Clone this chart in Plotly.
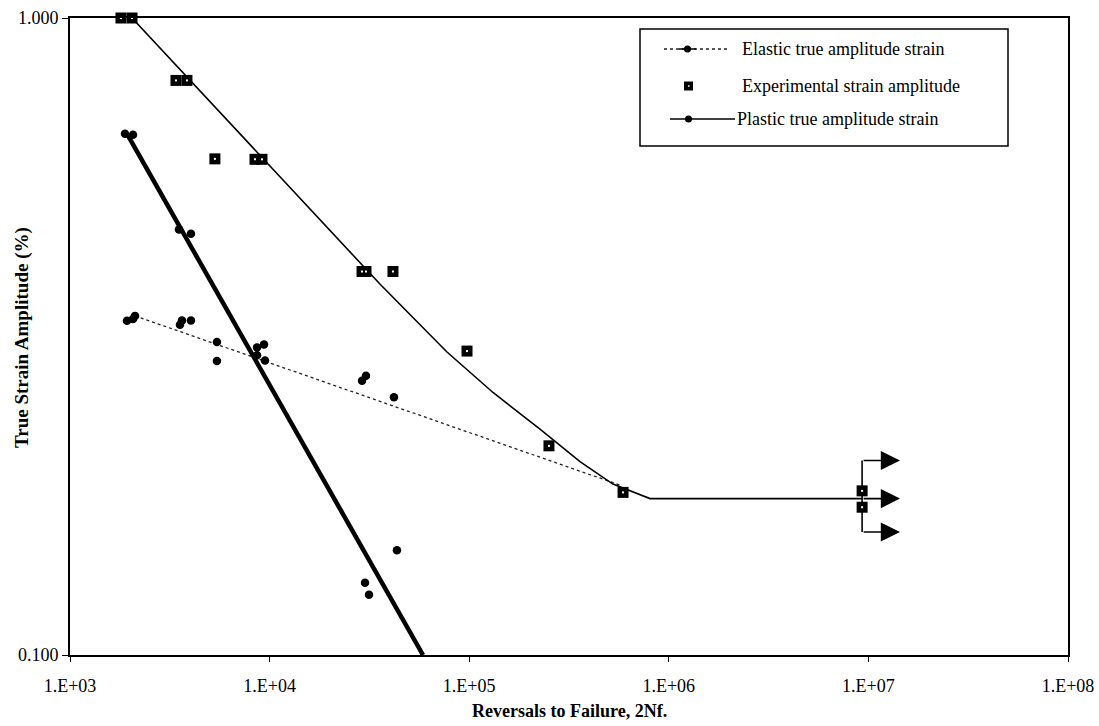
import math
import plotly.graph_objects as go

# ---------------- data ----------------
exp_x = [1800, 2045, 3396, 3854, 5321, 8450, 9160, 29050, 30400, 41500,
         97500, 251000, 590000, 9.3e6, 9.3e6]
exp_y = [1.0, 1.0, 0.798, 0.798, 0.601, 0.600, 0.600, 0.400, 0.400, 0.400,
         0.300, 0.213, 0.180, 0.181, 0.1706]

elastic_x = [1930, 2069, 2117, 3556, 3639, 4036, 5447, 5447, 8650, 9375,
             8650, 9484, 30400, 29050, 41980]
elastic_y = [0.3347, 0.337, 0.3407, 0.330, 0.335, 0.335, 0.310, 0.2894,
             0.304, 0.3072, 0.2954, 0.290, 0.2744, 0.2694, 0.2539]

plastic_x = [1886, 2069, 3516, 4036, 30060, 31480, 43450]
plastic_y = [0.658, 0.6555, 0.4657, 0.4586, 0.1298, 0.1243, 0.146]

elastic_fit_x = [2117, 569500]
elastic_fit_y = [0.3407, 0.1848]

plastic_fit_x = [1953, 58700]
plastic_fit_y = [0.6534, 0.100]

total_x = [2045, 9160, 35700, 51650, 77400, 131600, 226300, 359000, 525000,
           805000, 9.3e6]
total_y = [1.0, 0.604, 0.3823, 0.340, 0.299, 0.2583, 0.2262, 0.2012, 0.1855,
           0.176, 0.176]

runout_x = 9.3e6
runout_tip_x = 1.44e7
runout_levels = [0.202, 0.176, 0.156]

x_tickvals = [1e3, 1e4, 1e5, 1e6, 1e7, 1e8]
x_ticktext = ["1.E+03", "1.E+04", "1.E+05", "1.E+06", "1.E+07", "1.E+08"]
y_tickvals = [0.1, 1.0]
y_ticktext = ["0.100", "1.000"]

legend_labels = ["Elastic true amplitude strain",
                 "Experimental strain amplitude",
                 "Plastic true amplitude strain"]

x_title = "Reversals to Failure, 2Nf."
y_title = "True Strain Amplitude (%)"

# ---------------- figure ----------------
FONT = "Liberation Serif, Times New Roman, serif"
W, H = 1099, 726
L, R, T, B = 70, 31, 18, 71
PW, PH = W - L - R, H - T - B


def px(x):
    return (x - L) / PW


def py(y):
    return (H - B - y) / PH


fig = go.Figure()

fig.add_trace(go.Scatter(x=elastic_fit_x, y=elastic_fit_y, mode="lines",
                         line=dict(color="#222", width=1.3, dash="dot"),
                         showlegend=False, hoverinfo="skip"))
fig.add_trace(go.Scatter(x=plastic_fit_x, y=plastic_fit_y, mode="lines",
                         line=dict(color="black", width=4.5),
                         showlegend=False, hoverinfo="skip", cliponaxis=True))
fig.add_trace(go.Scatter(x=total_x, y=total_y, mode="lines",
                         line=dict(color="black", width=1.6),
                         showlegend=False, hoverinfo="skip", cliponaxis=False))
fig.add_trace(go.Scatter(x=[runout_x] * 2, y=[runout_levels[0], runout_levels[-1]],
                         mode="lines", line=dict(color="black", width=1.6),
                         showlegend=False, hoverinfo="skip"))
fig.add_trace(go.Scatter(x=elastic_x, y=elastic_y, mode="markers",
                         marker=dict(color="black", size=8.5, symbol="circle"),
                         showlegend=False, cliponaxis=False))
fig.add_trace(go.Scatter(x=plastic_x, y=plastic_y, mode="markers",
                         marker=dict(color="black", size=8.5, symbol="circle"),
                         showlegend=False, cliponaxis=False))
fig.add_trace(go.Scatter(x=exp_x, y=exp_y, mode="markers",
                         marker=dict(color="black", size=11, symbol="square",
                                     line=dict(width=0)),
                         showlegend=False, cliponaxis=False))
fig.add_trace(go.Scatter(x=exp_x, y=exp_y, mode="markers",
                         marker=dict(color="white", size=2, symbol="square",
                                     line=dict(width=0)),
                         showlegend=False, cliponaxis=False, hoverinfo="skip"))

annotations = []
for lev in runout_levels:
    annotations.append(dict(
        x=math.log10(runout_tip_x), y=math.log10(lev), xref="x", yref="y",
        ax=math.log10(runout_x), ay=math.log10(lev), axref="x", ayref="y",
        showarrow=True, arrowhead=2, arrowsize=2.4, arrowwidth=1.6,
        arrowcolor="black", text=""))

# legend drawn manually
shapes = []
shapes.append(dict(type="rect", xref="paper", yref="paper",
                   x0=px(640), x1=px(1008), y0=py(146), y1=py(29),
                   line=dict(color="black", width=1.5), fillcolor="white",
                   layer="below"))
rows = [49, 86, 119]
# elastic sample
shapes.append(dict(type="line", xref="paper", yref="paper",
                   x0=px(664), x1=px(728), y0=py(rows[0]), y1=py(rows[0]),
                   line=dict(color="#222", width=1.3, dash="dot")))
shapes.append(dict(type="line", xref="paper", yref="paper",
                   x0=px(679), x1=px(696), y0=py(rows[0]), y1=py(rows[0]),
                   line=dict(color="black", width=1.5)))
shapes.append(dict(type="circle", xref="paper", yref="paper",
                   x0=px(684), x1=px(691), y0=py(rows[0] + 3.5), y1=py(rows[0] - 3.5),
                   line=dict(color="black", width=0), fillcolor="black"))
# experimental sample
shapes.append(dict(type="rect", xref="paper", yref="paper",
                   x0=px(684), x1=px(693), y0=py(rows[1] + 4.5), y1=py(rows[1] - 4.5),
                   line=dict(color="black", width=0), fillcolor="black"))
shapes.append(dict(type="rect", xref="paper", yref="paper",
                   x0=px(688), x1=px(689.5), y0=py(rows[1] + 0.8), y1=py(rows[1] - 0.8),
                   line=dict(color="white", width=0), fillcolor="white"))
# plastic sample
shapes.append(dict(type="line", xref="paper", yref="paper",
                   x0=px(670), x1=px(735), y0=py(rows[2]), y1=py(rows[2]),
                   line=dict(color="black", width=1.6)))
shapes.append(dict(type="circle", xref="paper", yref="paper",
                   x0=px(685), x1=px(692), y0=py(rows[2] + 3.5), y1=py(rows[2] - 3.5),
                   line=dict(color="black", width=0), fillcolor="black"))

text_x = [740, 740, 735]
for lab, r, tx in zip(legend_labels, rows, text_x):
    annotations.append(dict(x=px(tx), y=py(r), xref="paper", yref="paper",
                            text=lab, showarrow=False, xanchor="left",
                            yanchor="middle",
                            font=dict(family=FONT, size=18, color="black")))

# axis titles as annotations (fixed positions, like the reference)
annotations.append(dict(x=px(569), y=py(711), xref="paper", yref="paper",
                        text="<b>" + x_title + "</b>", showarrow=False,
                        xanchor="center", yanchor="middle",
                        font=dict(family=FONT, size=18, color="black")))
annotations.append(dict(x=px(22), y=py(338), xref="paper", yref="paper",
                        text="<b>" + y_title + "</b>", showarrow=False,
                        textangle=-90, xanchor="center", yanchor="middle",
                        font=dict(family=FONT, size=19, color="black")))

fig.update_layout(
    width=W, height=H,
    margin=dict(l=L, r=R, t=T, b=B, autoexpand=False),
    paper_bgcolor="white", plot_bgcolor="white",
    showlegend=False,
    shapes=shapes, annotations=annotations,
    font=dict(family=FONT, color="black"),
)

fig.update_xaxes(
    type="log", range=[3, 8], automargin=False,
    tickvals=x_tickvals, ticktext=x_ticktext,
    ticks="outside", ticklen=5, tickwidth=1, tickcolor="black",
    ticklabelstandoff=8,
    tickfont=dict(family=FONT, size=18, color="black"),
    showline=True, linecolor="black", linewidth=2, mirror=True,
    showgrid=False, zeroline=False,
)
fig.update_yaxes(
    type="log", range=[-1, 0], automargin=False,
    tickvals=y_tickvals, ticktext=y_ticktext,
    ticks="outside", ticklen=6, tickwidth=1, tickcolor="black",
    tickfont=dict(family=FONT, size=18, color="black"),
    showline=True, linecolor="black", linewidth=2, mirror=True,
    showgrid=False, zeroline=False,
)

fig.write_html("out.html")
